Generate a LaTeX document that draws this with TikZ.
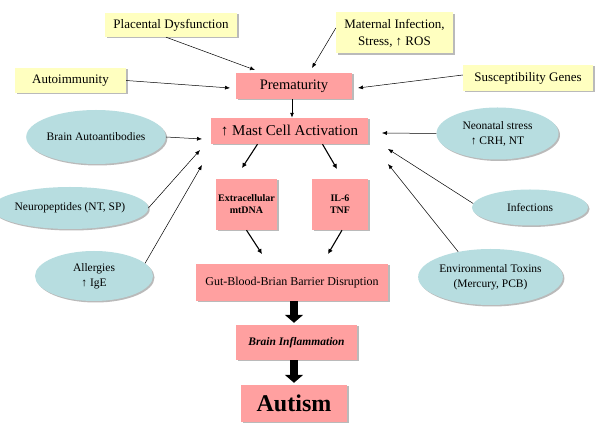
\documentclass[tikz,border=0pt]{standalone}
\usepackage{fontspec}
\setmainfont{Liberation Serif}
\usetikzlibrary{shapes.geometric,shadows,arrows.meta}
\definecolor{yel}{RGB}{255,255,192}
\definecolor{pnk}{RGB}{255,160,160}
\definecolor{tel}{RGB}{183,221,224}
\begin{document}
\begin{tikzpicture}[x=1pt,y=-1pt,
  sh/.style={drop shadow={shadow xshift=1.5pt,shadow yshift=-1.5pt,fill=black!45,opacity=0.6}},
  ybox/.style={sh,fill=yel,inner sep=0pt,align=center,font=\fontsize{13}{17}\selectfont},
  pbox/.style={sh,fill=pnk,inner sep=0pt,align=center},
  ell/.style={ellipse,sh,fill=tel,inner sep=0pt,align=center,font=\fontsize{11.5}{15}\selectfont},
  arr/.style={-{Latex[length=5pt,width=4pt]},line width=0.5pt},
  tarr/.style={-{Latex[length=5pt,width=5pt]},line width=1.1pt},
  fat/.style={-{Triangle[length=8pt,width=18pt]},line width=8.5pt}]
\useasboundingbox (0,0) rectangle (600,427);
\fill[white] (0,0) rectangle (600,427);

% yellow factors
\node[ybox,minimum width=132pt,minimum height=24pt] (plac) at (171,25) {Placental Dysfunction};
\node[ybox,minimum width=117pt,minimum height=41pt] (mat) at (394.5,33) {Maternal Infection,\\Stress, ↑ ROS};
\node[ybox,minimum width=111pt,minimum height=25pt] (auto) at (70.5,80.5) {Autoimmunity};
\node[ybox,minimum width=130pt,minimum height=26pt] (susc) at (528,78) {Susceptibility Genes};

% pink boxes
\node[pbox,minimum width=116pt,minimum height=26pt,font=\fontsize{14.5}{17}\selectfont] (prem) at (294,86) {Prematurity};
\node[pbox,minimum width=157pt,minimum height=26pt,font=\fontsize{15}{18}\selectfont] (mast) at (289.5,131) {↑ Mast Cell Activation};
\node[pbox,minimum width=61pt,minimum height=51pt,font=\fontsize{10}{12}\selectfont\bfseries] (extra) at (246.5,204.5) {Extracellular\\mtDNA};
\node[pbox,minimum width=56pt,minimum height=51pt,font=\fontsize{10}{12}\selectfont\bfseries] (il) at (340,204.5) {IL-6\\TNF};
\node[pbox,minimum width=192pt,minimum height=37pt,font=\fontsize{12}{14}\selectfont] (gut) at (292,282.5) {Gut-Blood-Brian Barrier Disruption};
\node[pbox,minimum width=121pt,minimum height=35pt,font=\fontsize{11.5}{14}\selectfont\bfseries\itshape] (binf) at (296.5,342.5) {Brain Inflammation};
\node[pbox,minimum width=106pt,minimum height=37pt,font=\fontsize{24}{28}\selectfont\bfseries] (aut) at (294,403.5) {Autism};

% ellipses
\node[ell,minimum width=122pt,minimum height=54pt] (bauto) at (96,137) {Brain Autoantibodies};
\node[ell,minimum width=122pt,minimum height=42pt] (neuro) at (70,208) {Neuropeptides (NT, SP)};
\node[ell,minimum width=118pt,minimum height=50pt] (allg) at (94,276) {Allergies\\↑ IgE};
\node[ell,minimum width=122pt,minimum height=52pt] (neon) at (497.5,133.5) {Neonatal stress\\↑ CRH, NT};
\node[ell,minimum width=116pt,minimum height=36pt] (inf) at (530,207.5) {Infections};
\node[ell,minimum width=128pt,minimum height=56pt] (env) at (490.5,277) {Environmental Toxins\\(Mercury, PCB)};

% free ends
\coordinate (e1) at (255,70);
\coordinate (e2) at (312,68);
\coordinate (e3) at (230,88);
\coordinate (e4) at (358,88);
\coordinate (l1) at (202,139);
\coordinate (l2) at (200,150);
\coordinate (l3) at (202,165);
\coordinate (r1) at (382,133);
\coordinate (r2) at (388,149);
\coordinate (r3) at (388,164);
\coordinate (m1) at (242,168);
\coordinate (m2) at (337,169);
\coordinate (g1) at (262,254);
\coordinate (g2) at (328,254);

% arrows into prematurity
\draw[arr] ([xshift=-5pt]plac.south) -- (e1);
\draw[arr] ([yshift=5pt]mat.west) -- (e2);
\draw[arr] (auto.east) -- (e3);
\draw[arr] ([yshift=3pt]susc.west) -- (e4);
\draw[arr,line width=0.8pt] ([xshift=-2pt]prem.south) -- ([xshift=-2pt]prem.south |- mast.north);

% arrows toward mast cell
\draw[arr] (bauto.east) -- (l1);
\draw[arr] (neuro.east) -- (l2);
\draw[arr] (allg.14) -- (l3);
\draw[arr] (neon.west) -- (r1);
\draw[arr] (inf.176) -- (r2);
\draw[arr] (env.142) -- (r3);

% mediators
\draw[tarr] ([xshift=-32pt]mast.south) -- (m1);
\draw[tarr] ([xshift=33pt]mast.south) -- (m2);
\draw[tarr] (extra.south) -- (g1);
\draw[tarr] ([xshift=2pt]il.south) -- (g2);

% block arrows
\draw[fat] ([xshift=2pt]gut.south) -- ([xshift=-2.5pt,yshift=2pt]binf.north);
\draw[fat] ([xshift=-2.5pt]binf.south) -- ([yshift=2pt]aut.north);
\end{tikzpicture}
\end{document}
